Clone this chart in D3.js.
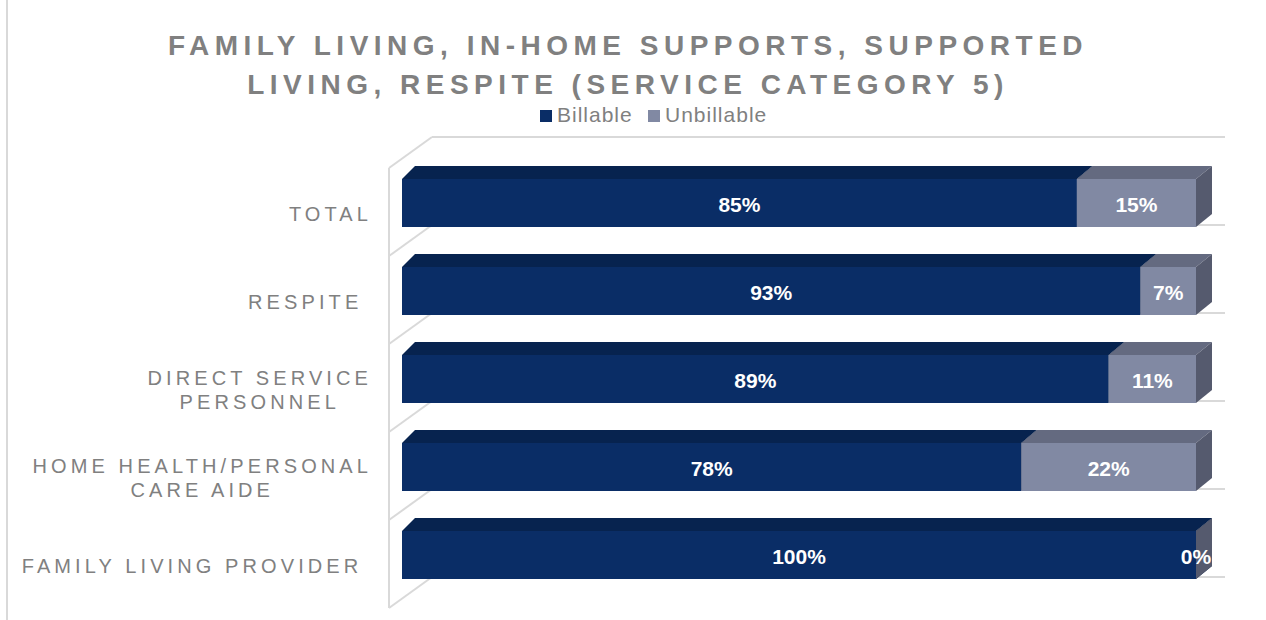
<!DOCTYPE html>
<html>
<head>
<meta charset="utf-8">
<script src="https://cdn.jsdelivr.net/npm/d3@7"></script>
<style>
  html, body { margin: 0; padding: 0; background: #fff; }
  svg { display: block; font-family: "Liberation Sans", Arial, Helvetica, sans-serif; }
</style>
</head>
<body>
<svg id="chart" width="1266" height="620"></svg>
<script>
// Chart text and values
const titleLines = ["FAMILY LIVING, IN-HOME SUPPORTS, SUPPORTED", "LIVING, RESPITE (SERVICE CATEGORY 5)"];
const seriesNames = ["Billable", "Unbillable"];
const categories = [
  "TOTAL",
  "RESPITE ",
  "DIRECT SERVICE\nPERSONNEL",
  "HOME HEALTH/PERSONAL\nCARE AIDE",
  "FAMILY LIVING PROVIDER "
];
const billable = [85, 93, 89, 78, 100];
const unbillable = [15, 7, 11, 22, 0];

// Styling
const frontColors = { Billable: "#0a2d66", Unbillable: "#8189a3" };
const topColors   = { Billable: "#07234f", Unbillable: "#646a80" };
const sideColors  = { Billable: "#061e45", Unbillable: "#555a6e" };
const gray = "#808080";
const wallColor = "#d9d9d9";

const svg = d3.select("#chart");

// Scales for the front faces of the bars
const x = d3.scaleLinear().domain([0, 100]).range([402, 1196]);
const y = d3.scaleBand()
  .domain(categories)
  .range([159, 599])
  .paddingInner(40 / 88)
  .paddingOuter(20 / 88);

// 3-D depth of each bar (slight perspective: deeper towards the right)
const depthY = 13;
const depthX = px => 13 + 3 * (px - x.range()[0]) / (x.range()[1] - x.range()[0]);

// Chart-area left border
svg.append("line")
  .attr("x1", 7).attr("x2", 7).attr("y1", 0).attr("y2", 620)
  .attr("stroke", wallColor).attr("stroke-width", 2);

// Walls: back-wall lines, side-wall diagonals and front edge
const wallBackX = 432, wallFrontX = 389, wallRightX = 1225;
const backShift = -22, frontShift = 9;
const boundaries = d3.range(categories.length + 1).map(k => y.range()[0] + k * y.step());
const walls = svg.append("g").attr("stroke", wallColor).attr("stroke-width", 2).attr("fill", "none");
walls.selectAll("line.back").data(boundaries).join("line")
  .attr("class", "back")
  .attr("x1", wallBackX).attr("x2", wallRightX)
  .attr("y1", b => b + backShift).attr("y2", b => b + backShift);
walls.selectAll("line.side").data(boundaries).join("line")
  .attr("class", "side")
  .attr("x1", wallBackX).attr("y1", b => b + backShift)
  .attr("x2", wallFrontX).attr("y2", b => b + frontShift);
walls.append("line")
  .attr("x1", wallFrontX).attr("x2", wallFrontX)
  .attr("y1", boundaries[0] + frontShift)
  .attr("y2", boundaries[boundaries.length - 1] + frontShift);

// Stacked data
const rows = categories.map((c, i) => ({ cat: c, Billable: billable[i], Unbillable: unbillable[i] }));
const stacked = d3.stack().keys(seriesNames)(rows);

// Bars: per category, draw each segment's front, top and side faces left to right
const barsG = svg.append("g");
rows.forEach((row, i) => {
  const g = barsG.append("g");
  const y0 = y(row.cat), y1 = y0 + y.bandwidth();
  stacked.forEach(series => {
    const key = series.key;
    const d = series[i];
    const xa = x(d[0]), xb = x(d[1]);
    const dxa = depthX(xa), dxb = depthX(xb);
    // front
    g.append("rect")
      .attr("x", xa).attr("y", y0)
      .attr("width", Math.max(0, xb - xa)).attr("height", y.bandwidth())
      .attr("fill", frontColors[key]);
    // top
    g.append("path")
      .attr("d", `M${xa},${y0}L${xa + dxa},${y0 - depthY}L${xb + dxb},${y0 - depthY}L${xb},${y0}Z`)
      .attr("fill", topColors[key]);
    // side
    g.append("path")
      .attr("d", `M${xb},${y0}L${xb + dxb},${y0 - depthY}L${xb + dxb},${y1 - depthY}L${xb},${y1}Z`)
      .attr("fill", sideColors[key]);
  });
});

// Value labels
const labelsG = svg.append("g")
  .attr("fill", "#ffffff")
  .attr("font-weight", "bold")
  .attr("font-size", 21)
  .attr("text-anchor", "middle");
stacked.forEach(series => {
  series.forEach((d, i) => {
    const cx = (x(d[0]) + x(d[1])) / 2;
    const cy = y(rows[i].cat) + y.bandwidth() / 2;
    labelsG.append("text")
      .attr("x", cx).attr("y", cy + 9)
      .text(`${d.data[series.key]}%`);
  });
});

// Category labels: lines centred with each other, block right-aligned
const catRight = 372;
const lineH = 24;
const catG = svg.append("g")
  .attr("fill", gray)
  .attr("font-size", 20)
  .attr("letter-spacing", 4.1);
categories.forEach(c => {
  const lines = c.split("\n");
  const cy = y(c) + y.bandwidth() / 2 + 11;
  const texts = lines.map((ln, j) => catG.append("text")
    .attr("y", cy - (lines.length - 1) * lineH / 2 + j * lineH + 7)
    .attr("text-anchor", "middle")
    .text(ln.replace(/ $/, "\u00a0")));
  const maxW = d3.max(texts, t => t.node().getComputedTextLength());
  texts.forEach(t => t.attr("x", catRight - maxW / 2));
});

// Title
const titleG = svg.append("g")
  .attr("fill", gray)
  .attr("font-size", 28)
  .attr("font-weight", "bold")
  .attr("letter-spacing", 5.5)
  .attr("text-anchor", "middle");
titleLines.forEach((t, j) => {
  titleG.append("text").attr("x", 628).attr("y", 55 + j * 39).text(t);
});

// Legend
const legendItems = [
  { name: seriesNames[0], sx: 540, tx: 557 },
  { name: seriesNames[1], sx: 648, tx: 665 }
];
const legendG = svg.append("g");
legendItems.forEach(item => {
  legendG.append("rect")
    .attr("x", item.sx).attr("y", 110).attr("width", 12).attr("height", 12)
    .attr("fill", frontColors[item.name]);
  legendG.append("text")
    .attr("x", item.tx).attr("y", 122)
    .attr("font-size", 21)
    .attr("letter-spacing", 1.0)
    .attr("fill", gray)
    .text(item.name);
});
</script>
</body>
</html>
